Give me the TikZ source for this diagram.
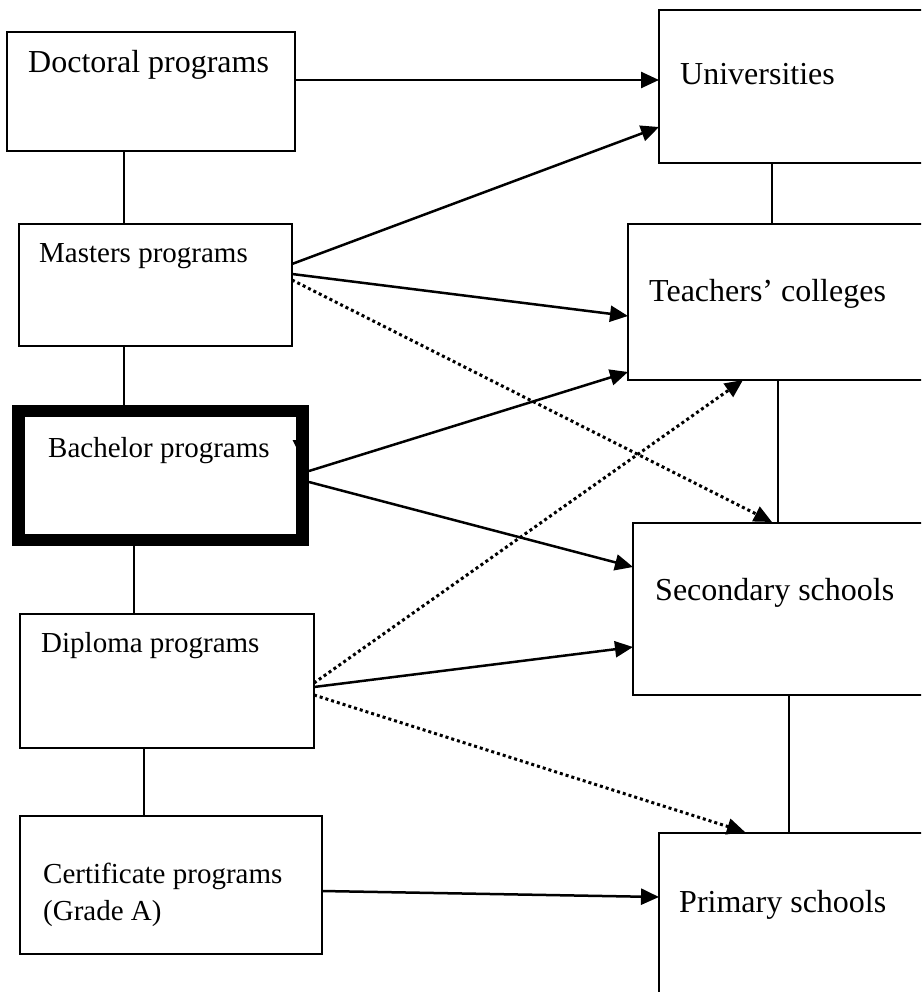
\documentclass[tikz,border=0pt]{standalone}
\usepackage{fontspec}
\setmainfont{Liberation Serif}
\usetikzlibrary{arrows.meta}
\tikzset{
  box/.style={draw=black, line width=2pt, rectangle, inner sep=0pt, outer sep=0pt},
  thickbox/.style={draw=black, line width=12.5pt, rectangle, inner sep=0pt, outer sep=0pt},
  lbl/.style={anchor=base west, inner sep=0pt, font=\fontsize{32}{37}\selectfont},
  lbls/.style={anchor=base west, inner sep=0pt, font=\fontsize{29}{35}\selectfont},
  link/.style={line width=2pt},
  arr/.style={line width=2.5pt, -{Triangle[length=18pt,width=16pt]}},
  dotarr/.style={line width=3pt, dash pattern=on 3pt off 3pt, -{Triangle[length=18pt,width=16pt]}}
}
\begin{document}
\begin{tikzpicture}[x=1pt,y=-1pt]
\useasboundingbox (0,0) rectangle (921,992);
\clip (0,0) rectangle (921,992);
\fill[white] (0,0) rectangle (921,992);
% boxes
\node[box, minimum width=288pt, minimum height=119pt] (doc) at (151,91.5) {};
\node[box, minimum width=301pt, minimum height=153pt] (uni) at (809.5,86.5) {};
\node[box, minimum width=273pt, minimum height=122pt] (mas) at (155.5,285) {};
\node[box, minimum width=332pt, minimum height=156pt] (tea) at (794,302) {};
\node[thickbox, minimum width=284pt, minimum height=129pt] (bac) at (160.5,475.5) {};
\node[box, minimum width=327pt, minimum height=172pt] (sec) at (796.5,609) {};
\node[box, minimum width=294pt, minimum height=134pt] (dip) at (167,681) {};
\node[box, minimum width=302pt, minimum height=138pt] (cer) at (171,885) {};
\node[box, minimum width=301pt, minimum height=177pt] (pri) at (809.5,921.5) {};
% labels
\node[lbl] (tdoc) at (28,73) {Doctoral programs};
\node[lbl] (tuni) at (680,85) {Universities};
\node[lbls] (tmas) at (39,262) {Masters programs};
\node[lbl] (ttea) at (649,301) {Teachers’ colleges};
\node[lbls] (tbac) at (48,457) {Bachelor programs};
\node[lbl] (tsec) at (655,600) {Secondary schools};
\node[lbls] (tdip) at (41,652) {Diploma programs};
\node[lbls] (tcer1) at (43,883) {Certificate programs};
\node[lbls] (tcer2) at (43,920) {(Grade A)};
\node[lbl] (tpri) at (679,912) {Primary schools};
% vertical links
\coordinate (l1) at ([xshift=117pt]doc.south west);
\draw[link] (l1) -- (l1 |- mas.north);
\coordinate (l2) at ([xshift=105pt]mas.south west);
\draw[link] (l2) -- (l2 |- bac.north);
\coordinate (l3) at ([xshift=115.5pt]bac.south west);
\draw[link] (l3) -- (l3 |- dip.north);
\coordinate (l4) at ([xshift=124pt]dip.south west);
\draw[link] (l4) -- (l4 |- cer.north);
\coordinate (r1) at ([xshift=113pt]uni.south west);
\draw[link] (r1) -- (r1 |- tea.north);
\coordinate (r2) at ([xshift=150pt]tea.south west);
\draw[link] (r2) -- (r2 |- sec.north);
\coordinate (r3) at ([xshift=156pt]sec.south west);
\draw[link] (r3) -- (r3 |- pri.north);
% arrows
\draw[arr] ([yshift=-48pt]doc.north east) -- ([yshift=-70pt]uni.north west);
\draw[arr] ([yshift=-40pt]mas.north east) -- ([yshift=-117pt]uni.north west);
\draw[arr] ([yshift=-50pt]mas.north east) -- ([yshift=-92pt]tea.north west);
\draw[dotarr] ([yshift=-56pt]mas.north east) -- ([xshift=139pt,yshift=1pt]sec.north west);
\draw[arr] ([xshift=6.5pt,yshift=-60pt]bac.north east) -- ([yshift=-148pt]tea.north west);
\draw[arr] ([xshift=6.5pt,yshift=-71pt]bac.north east) -- ([yshift=-44pt]sec.north west);
\draw[dotarr] ([yshift=-69pt]dip.north east) -- ([xshift=115pt]tea.south west);
\draw[arr] ([yshift=-73pt]dip.north east) -- ([yshift=-124pt]sec.north west);
\draw[dotarr] ([yshift=-81pt]dip.north east) -- ([xshift=86pt,yshift=1pt]pri.north west);
\draw[arr] ([yshift=-75pt]cer.north east) -- ([yshift=-64pt]pri.north west);
% small mark near bachelor box
\fill[black] ([xshift=-10pt,yshift=-29pt]bac.north east) -- ([xshift=0pt,yshift=-29pt]bac.north east) -- ([xshift=-4pt,yshift=-41pt]bac.north east) -- cycle;
\end{tikzpicture}
\end{document}
